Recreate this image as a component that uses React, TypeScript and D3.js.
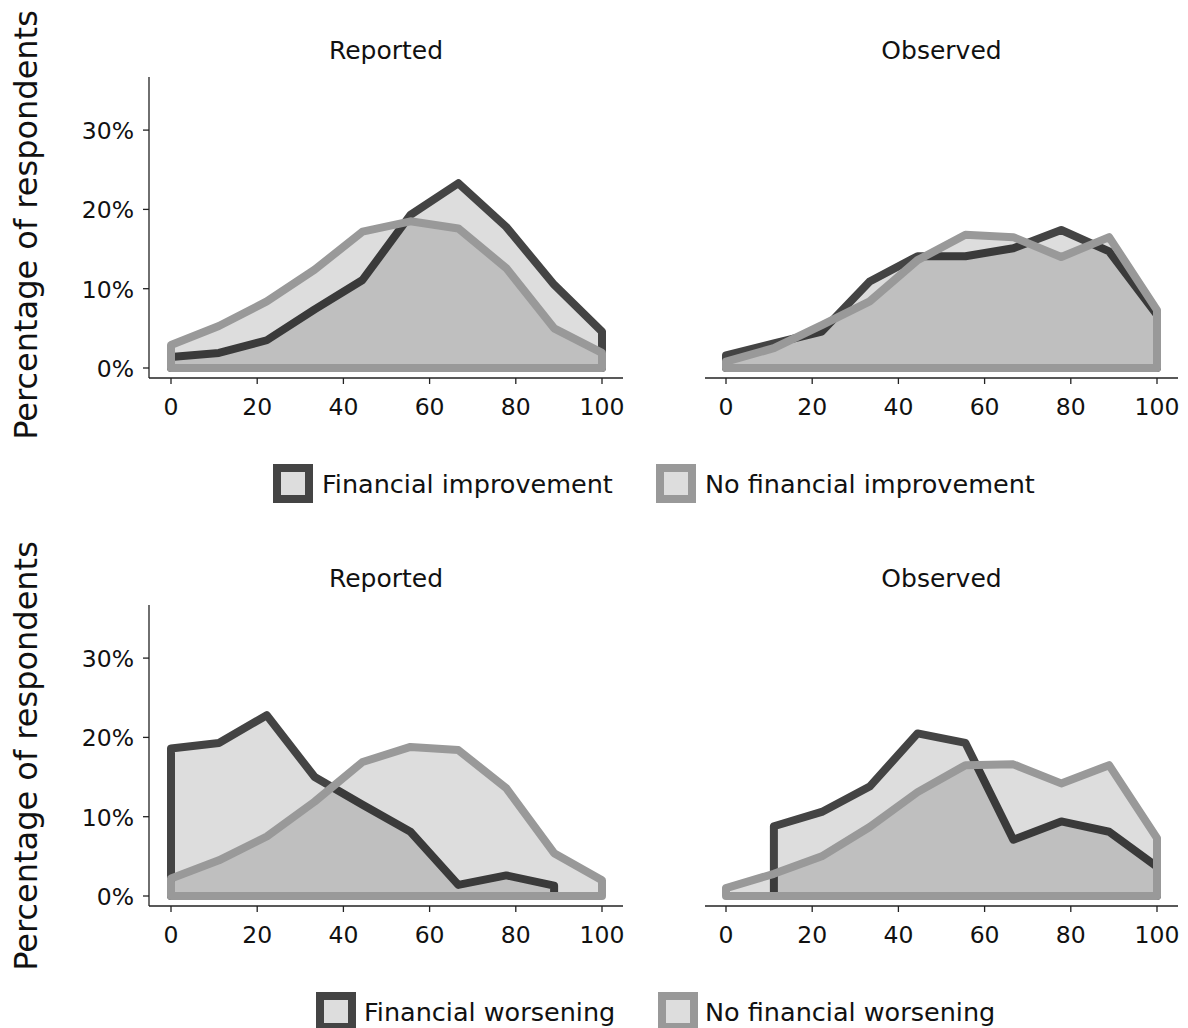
import React from "react";
import * as d3 from "d3";

const bins = [0, 100 / 9, 200 / 9, 300 / 9, 400 / 9, 500 / 9, 600 / 9, 700 / 9, 800 / 9, 100];
const yTicks = [0, 10, 20, 30];
const xTicks = [0, 20, 40, 60, 80, 100];
const panelTitles = ["Reported", "Observed"];

const improvReported = [1.4, 1.9, 3.5, 7.4, 11.1, 19.3, 23.3, 17.8, 10.5, 4.6];
const noImprovReported = [2.9, 5.3, 8.4, 12.4, 17.2, 18.5, 17.6, 12.6, 5.0, 1.9];
const improvObserved = [1.6, 3.1, 4.6, 10.9, 14.1, 14.1, 15.1, 17.4, 14.7, 6.7];
const noImprovObserved = [0.8, 2.5, 5.4, 8.4, 13.6, 16.8, 16.5, 14.0, 16.5, 7.3];

const worseReported = [18.6, 19.3, 22.8, 15.0, 11.5, 8.1, 1.4, 2.6, 1.3, null];
const noWorseReported = [2.2, 4.5, 7.5, 11.9, 16.9, 18.8, 18.4, 13.6, 5.4, 2.0];
const worseObserved = [null, 8.8, 10.6, 13.8, 20.5, 19.3, 7.1, 9.4, 8.1, 3.7];
const noWorseObserved = [1.0, 2.8, 5.0, 8.7, 13.1, 16.5, 16.6, 14.2, 16.5, 7.3];

const legendTop = ["Financial improvement", "No financial improvement"];
const legendBottom = ["Financial worsening", "No financial worsening"];

const DARK = "#444444";
const LIGHT = "#999999";
const FONT = "DejaVu Sans, sans-serif";

function polygon(vals: (number | null)[], x: d3.ScaleLinear<number, number>, y: d3.ScaleLinear<number, number>) {
  const pts: [number, number][] = [];
  bins.forEach((b, i) => {
    const v = vals[i];
    if (v !== null && v !== undefined) pts.push([b, v]);
  });
  if (!pts.length) return "";
  const poly: [number, number][] = [[pts[0][0], 0], ...pts, [pts[pts.length - 1][0], 0]];
  const line = d3.line<[number, number]>().x((d) => x(d[0])).y((d) => y(d[1]));
  return line(poly) + "Z";
}

export default function App() {
  const rows: { offset: number; data: [(number | null)[], (number | null)[]][]; legend: string[] }[] = [
    { offset: 0, data: [[improvReported, noImprovReported], [improvObserved, noImprovObserved]], legend: legendTop },
    { offset: 528, data: [[worseReported, noWorseReported], [worseObserved, noWorseObserved]], legend: legendBottom },
  ];
  const panelsX = [
    { x0: 171, x1: 602, spineL: 149, spineR: 623, yAxis: true },
    { x0: 726, x1: 1157, spineL: 705, spineR: 1178, yAxis: false },
  ];
  const legendPos = [
    [{ box: 273, text: 322 }, { box: 656, text: 705 }],
    [{ box: 316, text: 364 }, { box: 658, text: 705 }],
  ];
  const legendY = [464, 992];

  return (
    <svg width={1188} height={1028} style={{ position: "absolute", left: 0, top: 0, background: "#fff" }} fontFamily={FONT}>
      {rows.map((row, ri) => {
        const y = d3.scaleLinear().domain([0, 10]).range([368 + row.offset, 288.7 + row.offset]);
        const yBottom = 378 + row.offset;
        const yTop = 77 + row.offset;
        return (
          <g key={ri}>
            <text
              transform={`translate(37,${225 + row.offset + (ri === 1 ? 3 : 0)}) rotate(-90)`}
              textAnchor="middle"
              fontSize={32}
              fill="#111"
            >
              Percentage of respondents
            </text>
            {panelsX.map((p, pi) => {
              const x = d3.scaleLinear().domain([0, 100]).range([p.x0, p.x1]);
              const [darkVals, lightVals] = row.data[pi];
              return (
                <g key={pi}>
                  <text x={(p.spineL + p.spineR) / 2} y={59 + row.offset} textAnchor="middle" fontSize={25} fill="#111">
                    {panelTitles[pi]}
                  </text>
                  {[
                    [darkVals, DARK],
                    [lightVals, LIGHT],
                  ].map(([vals, col], k) => (
                    <path
                      key={k}
                      d={polygon(vals as (number | null)[], x, y)}
                      fill="black"
                      fillOpacity={0.135}
                      stroke={col as string}
                      strokeWidth={8}
                      strokeLinejoin="round"
                    />
                  ))}
                  <line x1={p.spineL} x2={p.spineR} y1={yBottom} y2={yBottom} stroke="#222" strokeWidth={1.3} />
                  {xTicks.map((t) => (
                    <g key={t}>
                      <line x1={x(t)} x2={x(t)} y1={yBottom} y2={yBottom + 6} stroke="#222" strokeWidth={1.3} />
                      <text x={x(t)} y={yBottom + 37} textAnchor="middle" fontSize={23.5} fill="#111">
                        {t}
                      </text>
                    </g>
                  ))}
                  {p.yAxis && (
                    <g>
                      <line x1={p.spineL} x2={p.spineL} y1={yTop} y2={yBottom} stroke="#222" strokeWidth={1.3} />
                      {yTicks.map((t) => (
                        <g key={t}>
                          <line x1={p.spineL - 6} x2={p.spineL} y1={y(t)} y2={y(t)} stroke="#222" strokeWidth={1.3} />
                          <text x={p.spineL - 15} y={y(t) + 9} textAnchor="end" fontSize={23.5} fill="#111">
                            {t}%
                          </text>
                        </g>
                      ))}
                    </g>
                  )}
                </g>
              );
            })}
            {row.legend.map((lab, li) => {
              const pos = legendPos[ri][li];
              const ly = legendY[ri];
              return (
                <g key={li}>
                  <rect
                    x={pos.box + 4}
                    y={ly + 4}
                    width={32}
                    height={31}
                    fill="#dddddd"
                    stroke={li === 0 ? DARK : LIGHT}
                    strokeWidth={8}
                  />
                  <text x={pos.text} y={ly + 29} fontSize={25.5} fill="#111">
                    {lab}
                  </text>
                </g>
              );
            })}
          </g>
        );
      })}
    </svg>
  );
}
